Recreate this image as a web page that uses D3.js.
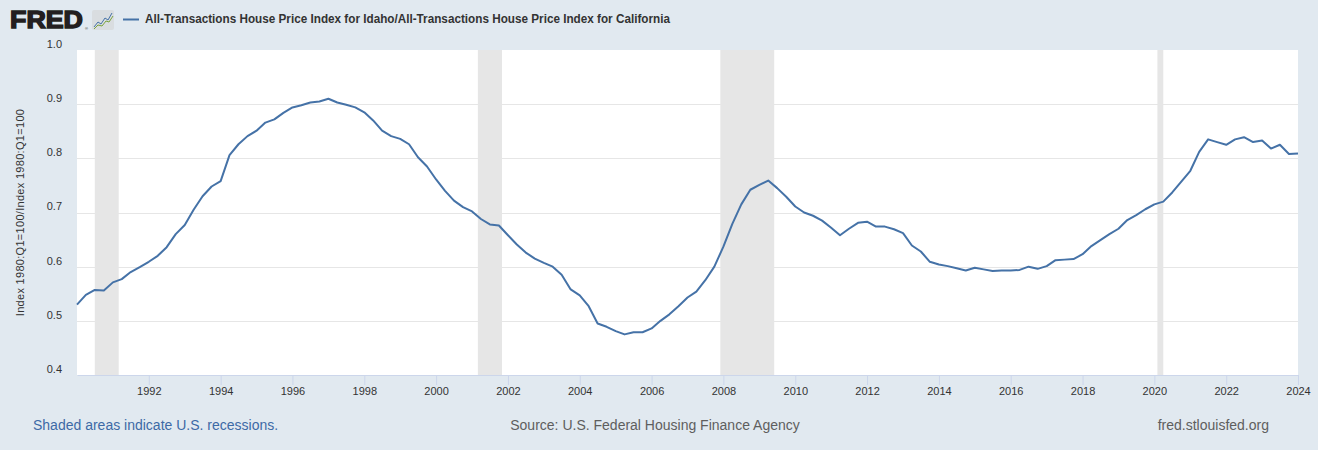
<!DOCTYPE html>
<html>
<head>
<meta charset="utf-8">
<script src="https://cdn.jsdelivr.net/npm/d3@7"></script>
<style>
	body { margin: 0; background: #e1e9f0; }
	svg { display: block; font-family: "Liberation Sans", Arial, sans-serif; }
	.grid line { stroke: #e6e6e6; }
	.tick-label { font-size: 11px; fill: #333; }
</style>
</head>
<body>
<svg id="chart" width="1318" height="450"></svg>
<script>
// Quarterly ratio, Idaho HPI / California HPI, 1990:Q1 .. 2024:Q1
const FIRST_QUARTER = new Date(1990, 0, 1);
const RATIO = [
	0.530, 0.548, 0.557, 0.556, 0.571, 0.577, 0.590, 0.599,
	0.609, 0.620, 0.636, 0.660, 0.677, 0.705, 0.730, 0.748,
	0.758, 0.806, 0.826, 0.841, 0.851, 0.866, 0.872, 0.884,
	0.894, 0.898, 0.903, 0.905, 0.910, 0.903, 0.899, 0.894,
	0.885, 0.870, 0.851, 0.841, 0.836, 0.826, 0.802, 0.785,
	0.761, 0.740, 0.722, 0.710, 0.702, 0.688, 0.678, 0.676,
	0.658, 0.641, 0.626, 0.615, 0.607, 0.600, 0.585, 0.558,
	0.547, 0.527, 0.495, 0.489, 0.481, 0.475, 0.479, 0.479,
	0.486, 0.500, 0.512, 0.527, 0.543, 0.554, 0.575, 0.600,
	0.637, 0.679, 0.715, 0.742, 0.751, 0.759, 0.745, 0.729,
	0.711, 0.700, 0.694, 0.685, 0.672, 0.658, 0.670, 0.681,
	0.683, 0.674, 0.674, 0.669, 0.662, 0.639, 0.628, 0.609,
	0.604, 0.601, 0.597, 0.593, 0.598, 0.595, 0.592, 0.593,
	0.593, 0.594, 0.600, 0.596, 0.601, 0.612, 0.613, 0.614,
	0.623, 0.638, 0.649, 0.660, 0.670, 0.686, 0.695, 0.706,
	0.715, 0.720, 0.737, 0.757, 0.777, 0.812, 0.835, 0.830,
	0.825, 0.835, 0.839, 0.830, 0.833, 0.818, 0.825, 0.808,
	0.809
];

const RECESSION_START = ['1990-07-01', '2001-03-01', '2007-12-01', '2020-02-01'];
const RECESSION_END = ['1991-03-01', '2001-11-01', '2009-06-01', '2020-04-01'];

const Y_TICKS = [0.4, 0.5, 0.6, 0.7, 0.8, 0.9, 1.0];
const X_TICK_YEARS = d3.range(1992, 2025, 2);

const TITLE = 'All-Transactions House Price Index for Idaho/All-Transactions House Price Index for California';
const Y_LABEL = 'Index 1980:Q1=100/Index 1980:Q1=100';

const PLOT = { left: 77, right: 1298, top: 50, bottom: 375 };

const svg = d3.select('#chart');

const data = RATIO.map((v, i) => ({ date: d3.timeMonth.offset(FIRST_QUARTER, i * 3), value: v }));

const x = d3.scaleTime()
	.domain([new Date(1990, 0, 1), new Date(2024, 0, 1)])
	.range([PLOT.left, PLOT.right]);

const y = d3.scaleLinear()
	.domain([0.4, 1.0])
	.range([PLOT.bottom, PLOT.top]);

// plot background
svg.append('rect')
	.attr('x', PLOT.left)
	.attr('y', PLOT.top)
	.attr('width', PLOT.right - PLOT.left)
	.attr('height', PLOT.bottom - PLOT.top)
	.attr('fill', '#fff');

// recession bands
const parse = d3.timeParse('%Y-%m-%d');
svg.append('g')
	.selectAll('rect')
	.data(RECESSION_START.map((s, i) => [parse(s), parse(RECESSION_END[i])]))
	.enter().append('rect')
	.attr('x', d => x(d[0]))
	.attr('width', d => x(d[1]) - x(d[0]))
	.attr('y', PLOT.top)
	.attr('height', PLOT.bottom - PLOT.top)
	.attr('fill', '#e6e6e6');

// horizontal grid
svg.append('g')
	.attr('class', 'grid')
	.selectAll('line')
	.data(Y_TICKS.filter(t => t > 0.4 && t < 1.0))
	.enter().append('line')
	.attr('x1', PLOT.left)
	.attr('x2', PLOT.right)
	.attr('y1', d => Math.round(y(d)) + 0.5)
	.attr('y2', d => Math.round(y(d)) + 0.5);

// y tick labels (FRED puts them a little above the grid line)
svg.append('g')
	.selectAll('text')
	.data(Y_TICKS)
	.enter().append('text')
	.attr('class', 'tick-label')
	.attr('x', 62)
	.attr('y', d => y(d) - 6)
	.attr('dy', '0.35em')
	.attr('text-anchor', 'end')
	.text(d => d.toFixed(1));

// y axis title
svg.append('text')
	.attr('transform', `translate(24,${(PLOT.top + PLOT.bottom) / 2}) rotate(-90)`)
	.attr('text-anchor', 'middle')
	.style('font-size', '11px')
	.style('letter-spacing', '0.3px')
	.attr('fill', '#333')
	.text(Y_LABEL);

// x axis
const xAxis = d3.axisBottom(x)
	.tickValues(X_TICK_YEARS.map(yr => new Date(yr, 0, 1)))
	.tickFormat(d3.timeFormat('%Y'))
	.tickSize(10)
	.tickSizeOuter(0);

const gx = svg.append('g')
	.attr('transform', `translate(0,${PLOT.bottom})`)
	.call(xAxis);
gx.select('.domain').attr('stroke', '#ccd6eb');
gx.selectAll('.tick line').attr('stroke', '#ccd6eb');
gx.selectAll('.tick text')
	.attr('class', 'tick-label')
	.attr('y', 12)
	.attr('font-family', null)
	.attr('font-size', null);

// the series
const line = d3.line()
	.x(d => x(d.date))
	.y(d => y(d.value));

svg.append('path')
	.datum(data)
	.attr('d', line)
	.attr('fill', 'none')
	.attr('stroke', '#4572a7')
	.attr('stroke-width', 2)
	.attr('stroke-linejoin', 'round');

// header: FRED logo + legend
svg.append('text')
	.attr('x', 10)
	.attr('y', 28)
	.style('font-size', '24px')
	.style('font-weight', 'bold')
	.attr('fill', '#231f20')
	.attr('stroke', '#231f20')
	.attr('stroke-width', 1.4)
	.attr('textLength', 73)
	.attr('lengthAdjust', 'spacingAndGlyphs')
	.text('FRED');

svg.append('text')
	.attr('x', 85)
	.attr('y', 30)
	.style('font-size', '4px')
	.attr('fill', '#231f20')
	.text('®');

const icon = svg.append('g').attr('transform', 'translate(92,10)');
icon.append('rect')
	.attr('width', 22)
	.attr('height', 20)
	.attr('rx', 2)
	.attr('fill', '#d9dde0');
icon.append('polyline')
	.attr('points', '2,17 6,12 9,14 13,8 16,10 20,3')
	.attr('fill', 'none')
	.attr('stroke', '#4572a7')
	.attr('stroke-width', 1);
icon.append('polyline')
	.attr('points', '2,19 6,15 10,16 14,11 17,12 21,6')
	.attr('fill', 'none')
	.attr('stroke', '#7aa33f')
	.attr('stroke-width', 1);

svg.append('line')
	.attr('x1', 123)
	.attr('x2', 139)
	.attr('y1', 19.5)
	.attr('y2', 19.5)
	.attr('stroke', '#4572a7')
	.attr('stroke-width', 2);

svg.append('text')
	.attr('x', 145)
	.attr('y', 23)
	.style('font-size', '12px')
	.style('font-weight', 'bold')
	.attr('fill', '#333')
	.attr('textLength', 525)
	.attr('lengthAdjust', 'spacingAndGlyphs')
	.text(TITLE);

// footer
svg.append('text')
	.attr('x', 33)
	.attr('y', 430)
	.style('font-size', '14px')
	.attr('fill', '#3d6aa6')
	.text('Shaded areas indicate U.S. recessions.');

svg.append('text')
	.attr('x', 655)
	.attr('y', 430)
	.attr('text-anchor', 'middle')
	.style('font-size', '14px')
	.attr('fill', '#5e5e5e')
	.text('Source: U.S. Federal Housing Finance Agency');

svg.append('text')
	.attr('x', 1269)
	.attr('y', 430)
	.attr('text-anchor', 'end')
	.style('font-size', '14px')
	.attr('fill', '#5e5e5e')
	.text('fred.stlouisfed.org');
</script>
</body>
</html>
